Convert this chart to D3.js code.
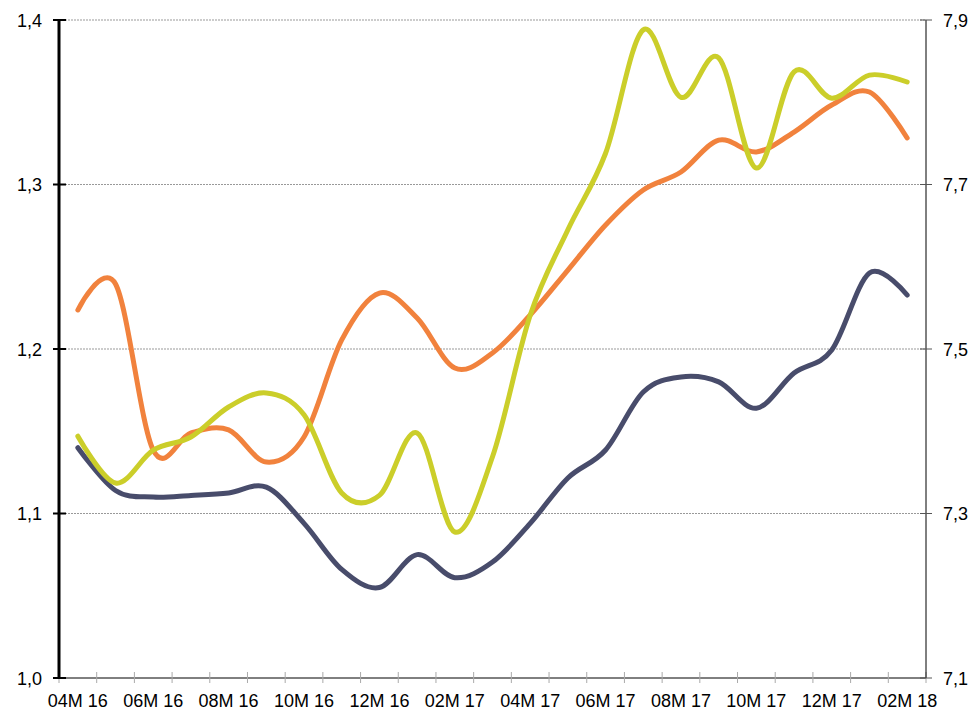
<!DOCTYPE html>
<html><head><meta charset="utf-8">
<script src="https://cdn.jsdelivr.net/npm/d3@7"></script>
<style>body{margin:0;background:#fff}svg{display:block}</style>
</head><body>
<svg id="c" width="974" height="711"></svg>
<script>
const categories = ["04M 16","05M 16","06M 16","07M 16","08M 16","09M 16","10M 16","11M 16","12M 16","01M 17","02M 17","03M 17","04M 17","05M 17","06M 17","07M 17","08M 17","09M 17","10M 17","11M 17","12M 17","01M 18","02M 18"];
const navy = [1.140,1.114,1.110,1.111,1.1125,1.116,1.094,1.066,1.055,1.075,1.061,1.0705,1.094,1.1216,1.1386,1.1739,1.183,1.180,1.164,1.1854,1.1994,1.2462,1.2328];
const orange = [1.2237,1.2395,1.1385,1.149,1.1508,1.1313,1.1465,1.2055,1.234,1.2188,1.1884,1.1976,1.2207,1.248,1.2754,1.2967,1.3076,1.327,1.3198,1.3319,1.3483,1.3562,1.3283];
const lime = [7.394,7.337,7.377,7.393,7.4295,7.4465,7.42,7.325,7.322,7.398,7.2775,7.369,7.541,7.645,7.738,7.888,7.806,7.854,7.72,7.837,7.805,7.833,7.8246];
const leftTicks = [1.0,1.1,1.2,1.3,1.4];
const rightTicks = [7.1,7.3,7.5,7.7,7.9];

const svg = d3.select("#c");
const L = 59, R = 926, T = 20, B = 678;
const x = d3.scaleBand().domain(categories).range([L, R]).padding(0);
const cx = d => x(d) + x.bandwidth()/2;
const yL = d3.scaleLinear().domain([1.0,1.4]).range([B,T]);
const yR = d3.scaleLinear().domain([7.1,7.9]).range([B,T]);
const fmt = d => d3.format(".1f")(d).replace(".", ",");
const font = "Liberation Sans, Arial, sans-serif";
const fs = 18;

// gridlines
svg.append("g").selectAll("line").data(leftTicks.slice(1)).join("line")
  .attr("x1", L).attr("x2", R).attr("y1", d=>yL(d)).attr("y2", d=>yL(d))
  .attr("stroke", "#999").attr("stroke-width", 1).attr("stroke-dasharray", "2,1");

// bottom axis
const xa = svg.append("g").attr("transform", `translate(0,${B})`);
xa.append("line").attr("x1", L).attr("x2", R).attr("stroke", "#000").attr("stroke-width", 1);
const bounds = categories.map(c => x(c)).concat([R]);
xa.selectAll("line.tk").data(bounds).join("line").attr("class","tk")
  .attr("x1", d=>d).attr("x2", d=>d).attr("y1", -6).attr("y2", 5)
  .attr("stroke", "#aaa").attr("stroke-width", 1);
xa.selectAll("text").data(categories.filter((c,i)=>i%2===0)).join("text")
  .attr("x", d=>cx(d)).attr("y", 29).attr("text-anchor","middle")
  .attr("font-family", font).attr("font-size", fs).attr("fill","#000").text(d=>d);

// left axis
const la = svg.append("g");
la.append("line").attr("x1", L).attr("x2", L).attr("y1", T-1).attr("y2", B+1).attr("stroke","#000").attr("stroke-width",3);
la.selectAll("line.tk").data(leftTicks).join("line").attr("class","tk")
  .attr("x1", 53).attr("x2", 66).attr("y1", d=>yL(d)).attr("y2", d=>yL(d)).attr("stroke","#000").attr("stroke-width",2);
la.selectAll("text").data(leftTicks).join("text")
  .attr("x", 42).attr("y", d=>yL(d)+6.5).attr("text-anchor","end")
  .attr("font-family", font).attr("font-size", fs).attr("fill","#000").text(fmt);

// right axis
const ra = svg.append("g");
ra.append("line").attr("x1", R).attr("x2", R).attr("y1", T).attr("y2", B).attr("stroke","#000").attr("stroke-width",1);
ra.selectAll("line.tk").data(rightTicks).join("line").attr("class","tk")
  .attr("x1", R-6).attr("x2", R+6).attr("y1", d=>yR(d)).attr("y2", d=>yR(d)).attr("stroke","#555").attr("stroke-width",1);
ra.selectAll("text").data(rightTicks).join("text")
  .attr("x", 943).attr("y", d=>yR(d)+6.5).attr("text-anchor","start")
  .attr("font-family", font).attr("font-size", fs).attr("fill","#000").text(fmt);

// lines
const curve = d3.curveCardinal.tension(0);
const mk = (vals, ys) => d3.line().curve(curve).x((d,i)=>cx(categories[i])).y(d=>ys(d))(vals);
const series = [
  {vals: navy, y: yL, color: "#484c6b"},
  {vals: orange, y: yL, color: "#f1823d"},
  {vals: lime, y: yR, color: "#cbce2a"}
];
svg.append("g").selectAll("path").data(series).join("path")
  .attr("d", s => mk(s.vals, s.y)).attr("fill","none")
  .attr("stroke", s=>s.color).attr("stroke-width", 5)
  .attr("stroke-linecap","round").attr("stroke-linejoin","round");
</script>
</body></html>
